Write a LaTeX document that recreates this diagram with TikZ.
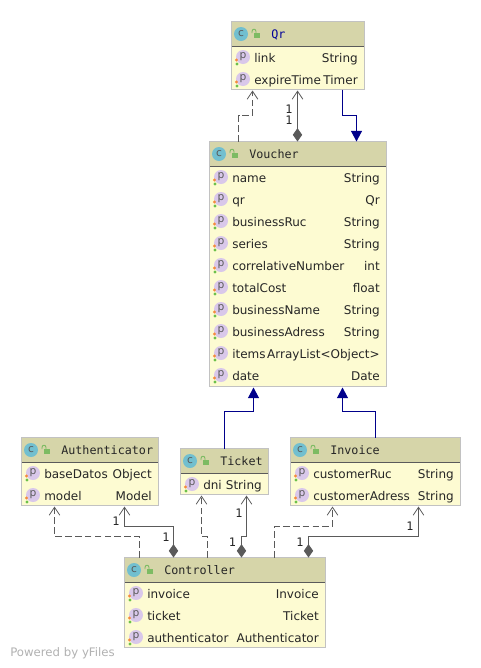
\documentclass[tikz,border=0pt]{standalone}
\usepackage{fontspec}
\setmainfont{DejaVu Sans}
\newfontfamily\titlefont{DejaVu Sans Mono}
\usetikzlibrary{arrows.meta,calc}
\definecolor{hdr}{HTML}{D6D5A9}
\definecolor{bdy}{HTML}{FDFBD2}
\definecolor{brd}{HTML}{C2C2C2}
\definecolor{lin}{HTML}{5A5A5A}
\definecolor{nav}{HTML}{00008B}
\definecolor{cteal}{HTML}{72BFCF}
\definecolor{ppur}{HTML}{D9C8EA}
\definecolor{lck}{HTML}{7DBB63}
\definecolor{dotor}{HTML}{F58A3C}
\definecolor{dotgr}{HTML}{6CC04A}
\newcounter{rowno}
\tikzset{
  x=0.75pt,y=-0.75pt,
  classbox/.style={draw=brd,line width=0.75pt,fill=bdy,anchor=north west,inner sep=0pt,outer sep=0pt},
  fieldtxt/.style={font=\fontsize{9pt}{10pt}\selectfont,text=black!85,inner sep=0pt},
  titletxt/.style={font=\titlefont\fontsize{8.8pt}{10pt}\selectfont,inner sep=0pt,anchor=base west,text=black!85},
  multtxt/.style={font=\titlefont\fontsize{8.8pt}{10pt}\selectfont,inner sep=0pt,text=black!85},
  iconc/.style={circle,fill=cteal,minimum size=10.5pt,inner sep=0pt,font=\fontsize{8pt}{8pt}\selectfont,text=black!65},
  iconp/.style={circle,fill=ppur,minimum size=10.5pt,inner sep=0pt,font=\fontsize{8pt}{8pt}\selectfont,text=black!65},
  depline/.style={lin,line width=0.6pt,dash pattern=on 5pt off 2.4pt,-{Straight Barb[length=6pt,width=8pt,line width=0.6pt]}},
  compline/.style={lin,line width=0.75pt,{Diamond[length=10pt,width=7pt,fill=lin]}-{Straight Barb[length=6pt,width=8pt,line width=0.6pt]}},
  inhline/.style={nav,line width=0.75pt,-{Triangle[length=8pt,width=8.25pt,fill=nav]}},
}
% name, left, top, right, bottom, title, title colour
\newcommand{\umlclass}[7]{%
  \node[classbox,minimum width={(#4-#2)*0.75pt},minimum height={(#5-#3)*0.75pt}] (#1) at (#2+0.5,#3+0.5) {};
  \fill[hdr] (#2+1,#3+1) rectangle (#4,#3+25.5);
  \draw[lin,line width=0.6pt] (#2+1,#3+25.5) -- (#4,#3+25.5);
  \node[iconc] (#1c) at (#2+10,#3+13) {c};
  \fill[lck] (#2+22.5,#3+11.5) rectangle (#2+29,#3+17);
  \draw[lck,line width=0.7pt] (#2+25,#3+12) -- (#2+25,#3+10.5) .. controls (#2+25,#3+7.5) and (#2+21,#3+7.5) .. (#2+21,#3+10.5) -- (#2+21,#3+12);
  \node[titletxt,text=#7] (#1t) at (#2+40,#3+17) {#6};
  \def\curL{#2}\def\curR{#4}%
}
% y, field, type
\newcommand{\umlrow}[3]{%
  \stepcounter{rowno}%
  \node[iconp] (pi\therowno) at (\curL+12,#1-1) {p};
  \fill[dotor] (\curL+5.5,#1+2) circle[radius=1.6];
  \fill[dotgr] (\curL+6,#1+6) circle[radius=1.6];
  \node[fieldtxt,anchor=base west] (fn\therowno) at (\curL+23,#1+4) {#2};
  \node[fieldtxt,anchor=base east] (ft\therowno) at (\curR-6,#1+4) {#3};
}
\begin{document}
\begin{tikzpicture}
\useasboundingbox[fill=white] (0,0) rectangle (481,668);

\umlclass{qr}{231}{21}{364}{89}{Qr}{blue!60!black}
\umlrow{58}{link}{String}
\umlrow{80}{expireTime}{Timer}

\umlclass{voucher}{209}{141}{386}{386}{Voucher}{black!85}
\umlrow{178}{name}{String}
\umlrow{200}{qr}{Qr}
\umlrow{222}{businessRuc}{String}
\umlrow{244}{series}{String}
\umlrow{266}{correlativeNumber}{int}
\umlrow{288}{totalCost}{float}
\umlrow{310}{businessName}{String}
\umlrow{332}{businessAdress}{String}
\umlrow{354}{items}{ArrayList<Object>}
\umlrow{376}{date}{Date}

\umlclass{auth}{21}{437}{158}{505}{Authenticator}{black!85}
\umlrow{474}{baseDatos}{Object}
\umlrow{496}{model}{Model}

\umlclass{ticket}{180}{448}{268}{494}{Ticket}{black!85}
\umlrow{485}{dni}{String}

\umlclass{invoice}{290}{437}{460}{505}{Invoice}{black!85}
\umlrow{474}{customerRuc}{String}
\umlrow{496}{customerAdress}{String}

\umlclass{ctrl}{124}{557}{325}{647}{Controller}{black!85}
\umlrow{594}{invoice}{Invoice}
\umlrow{616}{ticket}{Ticket}
\umlrow{638}{authenticator}{Authenticator}

% Voucher - Qr
\draw[depline] ($(voucher.north west)+(29,0)$) |- (252.5,115.5) -- ($(qr.south west)+(21,1)$);
\draw[compline] ($(voucher.north west)+(88,0)$) -- ($(qr.south west)+(66,1)$);
\draw[inhline] ($(qr.south west)+(111,0)$) |- (356.5,115.5) -- ($(voucher.north west)+(147,0)$);
\node[multtxt] (m1) at (289,109) {1};
\node[multtxt] (m2) at (289,120) {1};

% subclasses - Voucher
\draw[inhline] ($(ticket.north west)+(44,0)$) |- (253.5,411.5) -- ($(voucher.south west)+(44,1)$);
\draw[inhline] ($(invoice.north west)+(85,0)$) |- (342.5,411.5) -- ($(voucher.south west)+(133,1)$);

% Controller - Authenticator
\draw[depline] ($(ctrl.north west)+(15,0)$) |- (54.5,536.5) -- ($(auth.south west)+(33,1)$);
\draw[compline] ($(ctrl.north west)+(49,0)$) |- (124.5,526.5) -- ($(auth.south west)+(103,1)$);
\node[multtxt] (m3) at (116,521) {1};
\node[multtxt] (m4) at (166,537) {1};

% Controller - Ticket
\draw[depline] ($(ctrl.north west)+(83,0)$) |- (201.5,536.5) -- ($(ticket.south west)+(21,1)$);
\draw[compline] ($(ctrl.north west)+(117,0)$) |- (246.5,536.5) -- ($(ticket.south west)+(66,1)$);
\node[multtxt] (m5) at (239,513) {1};
\node[multtxt] (m6) at (232.5,542) {1};

% Controller - Invoice
\draw[depline] ($(ctrl.north west)+(150,0)$) |- (332.5,526.5) -- ($(invoice.south west)+(42,1)$);
\draw[compline] ($(ctrl.north west)+(184,0)$) |- (418.5,536.5) -- ($(invoice.south west)+(128,1)$);
\node[multtxt] (m7) at (410,526) {1};
\node[multtxt] (m8) at (300,542) {1};

\node[font=\fontsize{8.8pt}{10pt}\selectfont,text=black!30,inner sep=0pt,anchor=base west] (pw) at (10,656) {Powered by yFiles};
\end{tikzpicture}
\end{document}
